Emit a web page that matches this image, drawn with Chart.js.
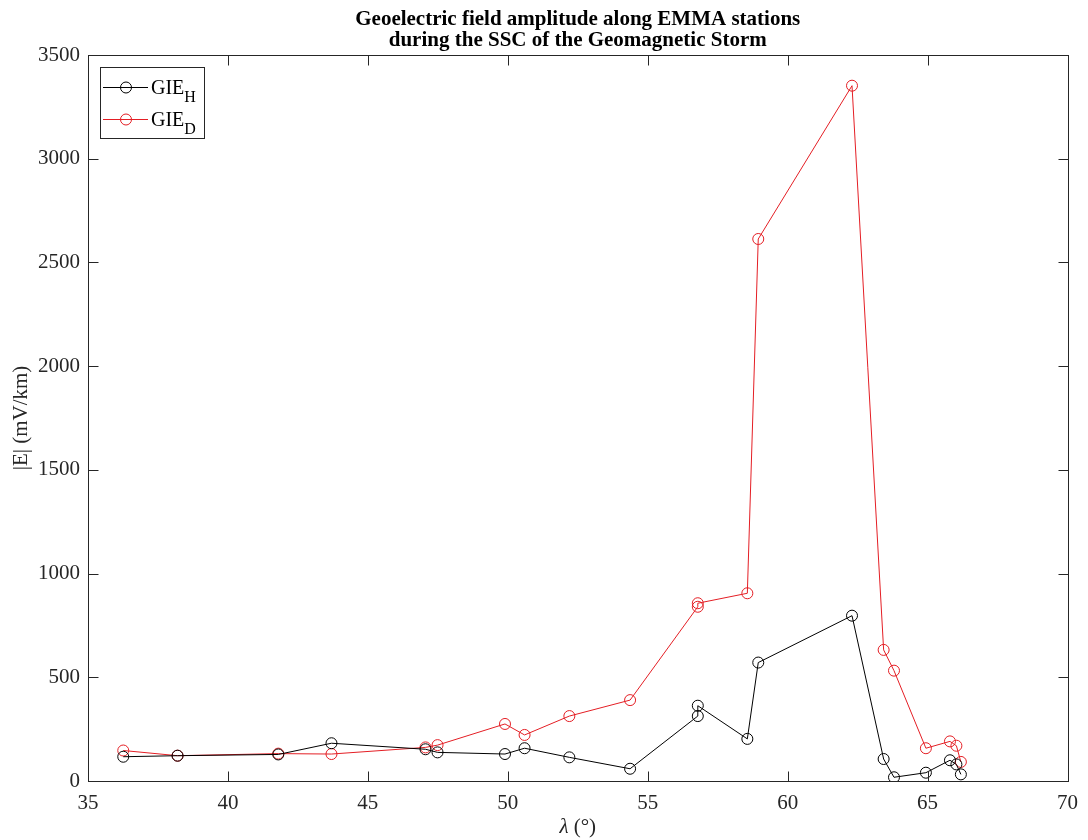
<!DOCTYPE html>
<html>
<head>
<meta charset="utf-8">
<script src="https://cdn.jsdelivr.net/npm/chart.js@4/dist/chart.umd.min.js"></script>
<style>
  body { margin: 0; background: #fff; }
  #wrap { width: 1088px; height: 840px; }
</style>
</head>
<body>
<div id="wrap"><canvas id="chart" width="1088" height="840"></canvas></div>
<script>
// geomagnetic latitude of the stations (deg)
const latitudes = [36.26, 38.2, 41.8, 43.7, 47.06, 47.49, 49.9, 50.6, 52.2, 54.37, 56.79, 56.79,
  58.56, 58.95, 62.3, 63.43, 63.8, 64.94, 65.8, 66.03, 66.19];
// |E| in mV/km
const gieH = [117, 122, 128, 182, 153, 138, 130, 158, 114, 59, 313, 363,
  203, 571, 797, 106, 18, 40, 100, 80, 32];
const gieD = [147, 122, 132, 130, 162, 173, 275, 222, 313, 390, 840, 857,
  905, 2613, 3352, 632, 532, 158, 191, 170, 92];

const xTicks = [35, 40, 45, 50, 55, 60, 65, 70];
const yTicks = [0, 500, 1000, 1500, 2000, 2500, 3000, 3500];

const titleLines = ['Geoelectric field amplitude along EMMA stations',
  'during the SSC of the Geomagnetic Storm'];

const serif = '"Liberation Serif", "Times New Roman", serif';
const axisColor = '#262626';
const redColor = 'rgb(228, 30, 36)';

function toPoints(vals) {
  return latitudes.map((x, i) => ({ x: x, y: vals[i] }));
}

// frame, inward ticks on all sides, title, x label, legend (matlab style)
const matlabAxes = {
  id: 'matlabAxes',
  afterDraw(chart) {
    const ctx = chart.ctx;
    const a = chart.chartArea;
    const xs = chart.scales.x;
    const ys = chart.scales.y;
    const L = Math.round(a.left) + 0.5, R = Math.round(a.right) + 0.5;
    const T = Math.round(a.top) + 0.5, B = Math.round(a.bottom) + 0.5;
    ctx.save();
    ctx.strokeStyle = axisColor;
    ctx.lineWidth = 1;
    ctx.strokeRect(L, T, R - L, B - T);
    const tl = 10;
    ctx.beginPath();
    xTicks.forEach(v => {
      const px = Math.round(xs.getPixelForValue(v)) + 0.5;
      ctx.moveTo(px, B); ctx.lineTo(px, B - tl);
      ctx.moveTo(px, T); ctx.lineTo(px, T + tl);
    });
    yTicks.forEach(v => {
      const py = Math.round(ys.getPixelForValue(v)) + 0.5;
      ctx.moveTo(L, py); ctx.lineTo(L + tl, py);
      ctx.moveTo(R, py); ctx.lineTo(R - tl, py);
    });
    ctx.stroke();

    // title
    ctx.fillStyle = '#000';
    ctx.font = 'bold 21px ' + serif;
    ctx.textAlign = 'center';
    ctx.textBaseline = 'alphabetic';
    const cx = (a.left + a.right) / 2;
    ctx.fillText(titleLines[0], cx, 25);
    ctx.fillText(titleLines[1], cx, 46);

    // x axis label with italic lambda
    ctx.fillStyle = axisColor;
    const lam = 'λ';
    const rest = ' (°)';
    ctx.font = 'italic 21px ' + serif;
    const w1 = ctx.measureText(lam).width;
    ctx.font = '21px ' + serif;
    const w2 = ctx.measureText(rest).width;
    const sx = cx - (w1 + w2) / 2;
    ctx.textAlign = 'left';
    ctx.font = 'italic 21px ' + serif;
    ctx.fillText(lam, sx, 833);
    ctx.font = '21px ' + serif;
    ctx.fillText(rest, sx + w1, 833);

    // legend
    const bx = 100.5, by = 67.5, bw = 104, bh = 71;
    ctx.fillStyle = '#fff';
    ctx.fillRect(bx, by, bw, bh);
    ctx.strokeStyle = axisColor;
    ctx.strokeRect(bx, by, bw, bh);
    const rows = [
      { ds: chart.data.datasets[0], sub: 'H', y: 87.5 },
      { ds: chart.data.datasets[1], sub: 'D', y: 119.5 }
    ];
    rows.forEach(r => {
      ctx.strokeStyle = r.ds.borderColor;
      ctx.lineWidth = 1;
      ctx.beginPath();
      ctx.moveTo(103, r.y); ctx.lineTo(148, r.y);
      ctx.stroke();
      ctx.beginPath();
      ctx.arc(126, r.y, 5.5, 0, Math.PI * 2);
      ctx.stroke();
      ctx.fillStyle = '#000';
      ctx.font = '20px ' + serif;
      ctx.fillText('GIE', 151, r.y + 6);
      const gw = ctx.measureText('GIE').width;
      ctx.font = '16px ' + serif;
      ctx.fillText(r.sub, 151 + gw, r.y + 14);
    });
    ctx.restore();
  }
};

new Chart(document.getElementById('chart'), {
  type: 'scatter',
  data: {
    datasets: [
      {
        label: 'GIE_H',
        data: toPoints(gieH),
        showLine: true,
        borderColor: '#000',
        backgroundColor: 'rgba(0,0,0,0)',
        borderWidth: 1,
        pointRadius: 5.5,
        pointBorderWidth: 1,
        pointStyle: 'circle'
      },
      {
        label: 'GIE_D',
        data: toPoints(gieD),
        showLine: true,
        borderColor: redColor,
        backgroundColor: 'rgba(0,0,0,0)',
        borderWidth: 1,
        pointRadius: 5.5,
        pointBorderWidth: 1,
        pointStyle: 'circle'
      }
    ]
  },
  options: {
    responsive: false,
    animation: false,
    devicePixelRatio: 1,
    layout: { padding: { top: 55, right: 20, left: 0, bottom: 0 } },
    plugins: {
      legend: { display: false },
      tooltip: { enabled: false },
      title: { display: false }
    },
    scales: {
      x: {
        type: 'linear',
        min: 35,
        max: 70,
        afterBuildTicks: s => { s.ticks = xTicks.map(v => ({ value: v })); },
        afterFit: s => { s.height = 59; },
        grid: { display: false, drawTicks: false },
        border: { display: false },
        ticks: {
          color: axisColor,
          padding: 10,
          maxRotation: 0,
          callback: v => String(v),
          font: { family: serif, size: 21 }
        }
      },
      y: {
        type: 'linear',
        min: 0,
        max: 3500,
        afterBuildTicks: s => { s.ticks = yTicks.map(v => ({ value: v })); },
        afterFit: s => { s.width = 88; },
        grid: { display: false, drawTicks: false },
        border: { display: false },
        title: {
          display: true,
          text: '|E| (mV/km)',
          color: axisColor,
          padding: { top: 9, bottom: 0 },
          font: { family: serif, size: 21 }
        },
        ticks: {
          color: axisColor,
          padding: 8,
          callback: v => String(v),
          font: { family: serif, size: 21 }
        }
      }
    }
  },
  plugins: [matlabAxes]
});
</script>
</body>
</html>
